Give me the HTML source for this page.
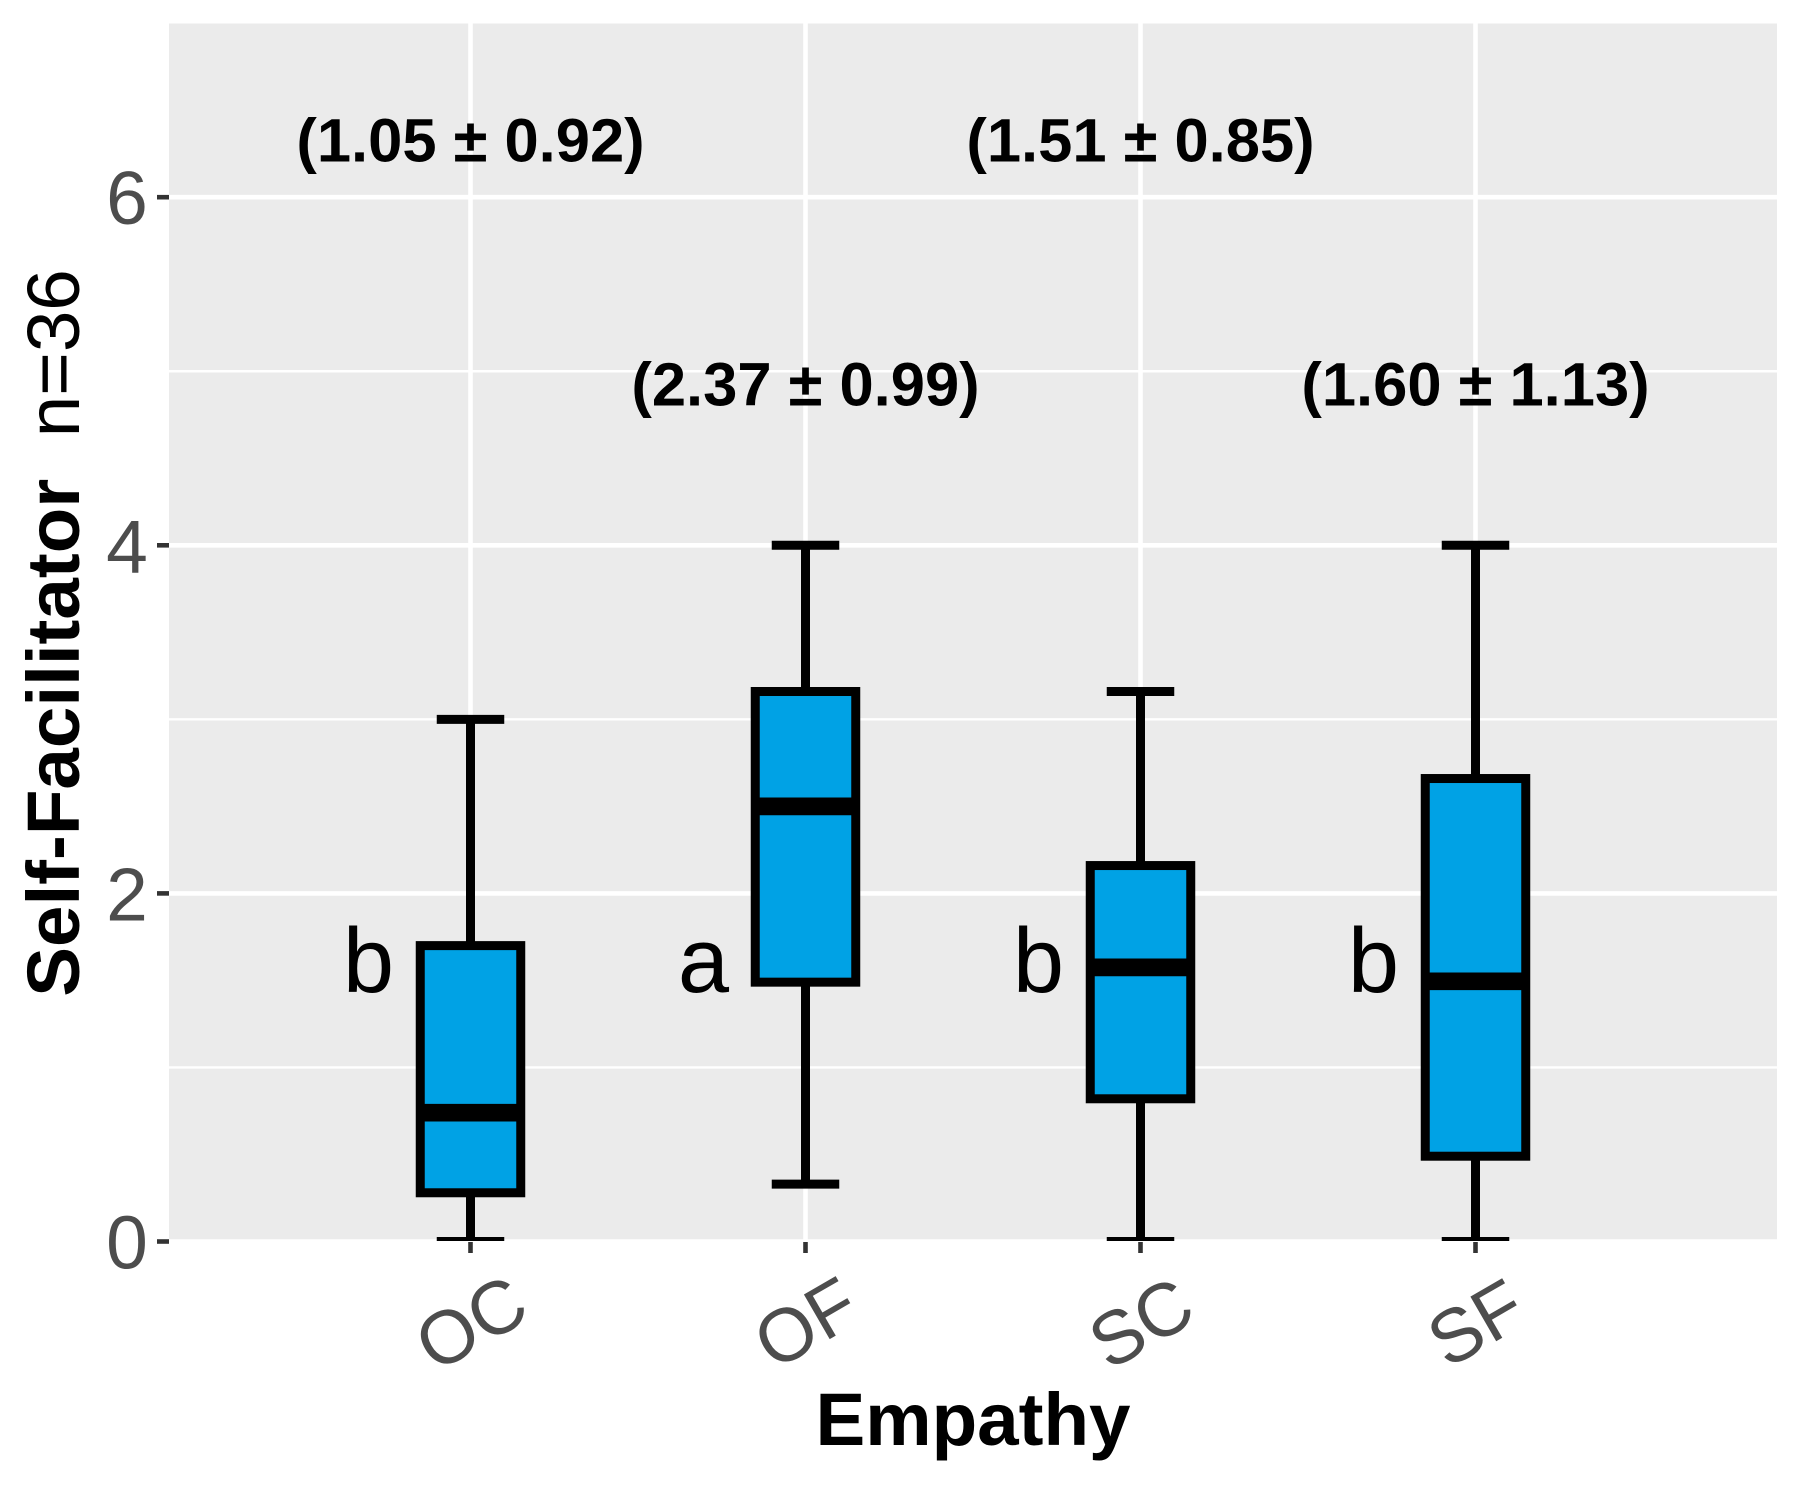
<!DOCTYPE html>
<html lang="en">
<head>
<meta charset="utf-8">
<title>Self-Facilitator by Empathy</title>
<style>
  html, body { margin: 0; padding: 0; background: #ffffff; }
  #chart { display: block; width: 1800px; height: 1500px; font-family: "Liberation Sans", Arial, sans-serif; }
</style>
</head>
<body>
<svg id="chart" xmlns="http://www.w3.org/2000/svg" width="1800" height="1500" viewBox="0 0 1800 1500">
  <defs>
    <clipPath id="panel-clip"><rect x="169" y="23.5" width="1608" height="1217.5"></rect></clipPath>
  </defs>
  <rect x="0" y="0" width="1800" height="1500" fill="#ffffff"></rect>
  <rect x="169" y="23.5" width="1608" height="1217.5" fill="#ebebeb"></rect>
  <g id="grid" clip-path="url(#panel-clip)"></g>
  <g id="boxes" clip-path="url(#panel-clip)"></g>
  <g id="annotations"></g>
  <g id="axes"></g>
  <text x="973" y="1445" text-anchor="middle" font-size="74.6" font-weight="700" fill="#000000">Empathy</text>
  <text transform="translate(79 633) rotate(-90)" text-anchor="middle" font-size="74.6" fill="#000000" xml:space="preserve" style="white-space:pre"><tspan font-weight="700">Self-Facilitator</tspan><tspan>  n=36</tspan></text>
</svg>
<script>
const categories = ["OC", "OF", "SC", "SF"];
const whiskerLow = [0, 0.33, 0, 0];
const q1 = [0.28, 1.49, 0.82, 0.49];
const median = [0.74, 2.50, 1.575, 1.495];
const q3 = [1.70, 3.16, 2.16, 2.66];
const whiskerHigh = [3, 4, 3.16, 4];
const meanLabels = ["(1.05 \u00b1 0.92)", "(2.37 \u00b1 0.99)", "(1.51 \u00b1 0.85)", "(1.60 \u00b1 1.13)"];
const groupLetters = ["b", "a", "b", "b"];
const yMajorTicks = [0, 2, 4, 6];
const yMinorTicks = [1, 3, 5];

const SVG_NS = "http://www.w3.org/2000/svg";
const PANEL = { left: 169, right: 1777, top: 23.5, bottom: 1241 };
const BOX_HALF = 50.25;
const CAP_HALF = 33.75;

function xScale(i) { return 470.5 + i * 335; }
function yScale(v) { return 1241.5 - v * 174.05; }

function makeLine(parent, x1, y1, x2, y2, stroke, width) {
  const el = document.createElementNS(SVG_NS, "line");
  el.setAttribute("x1", x1);
  el.setAttribute("y1", y1);
  el.setAttribute("x2", x2);
  el.setAttribute("y2", y2);
  el.setAttribute("stroke", stroke);
  el.setAttribute("stroke-width", width);
  parent.appendChild(el);
  return el;
}

function makeText(parent, x, y, content, size, fill, weight) {
  const el = document.createElementNS(SVG_NS, "text");
  el.setAttribute("x", x);
  el.setAttribute("y", y);
  el.setAttribute("font-size", size);
  el.setAttribute("fill", fill);
  el.setAttribute("font-weight", weight);
  el.setAttribute("text-anchor", "middle");
  el.textContent = content;
  parent.appendChild(el);
  return el;
}

const grid = document.getElementById("grid");
const boxes = document.getElementById("boxes");
const annotations = document.getElementById("annotations");
const axes = document.getElementById("axes");

yMinorTicks.forEach(function (v) {
  const el = makeLine(grid, PANEL.left, yScale(v), PANEL.right, yScale(v), "#ffffff", 2.4);
  
  
});
yMajorTicks.forEach(function (v) {
  const el = makeLine(grid, PANEL.left, yScale(v), PANEL.right, yScale(v), "#ffffff", 4.6);
  
  
});
categories.forEach(function (c, i) {
  const el = makeLine(grid, xScale(i), PANEL.top, xScale(i), PANEL.bottom, "#ffffff", 4.6);
  
  
});

categories.forEach(function (c, i) {
  const x = xScale(i);
  const g = document.createElementNS(SVG_NS, "g");
  
  
  boxes.appendChild(g);

  const upper = makeLine(g, x, yScale(q3[i]), x, yScale(whiskerHigh[i]), "#000000", 9);
  
  

  const lower = makeLine(g, x, yScale(q1[i]), x, yScale(whiskerLow[i]), "#000000", 9);
  
  

  const capHigh = makeLine(g, x - CAP_HALF, yScale(whiskerHigh[i]), x + CAP_HALF, yScale(whiskerHigh[i]), "#000000", 9);
  
  

  const capLow = makeLine(g, x - CAP_HALF, yScale(whiskerLow[i]), x + CAP_HALF, yScale(whiskerLow[i]), "#000000", 9);
  
  

  const rect = document.createElementNS(SVG_NS, "rect");
  rect.setAttribute("x", x - BOX_HALF);
  rect.setAttribute("y", yScale(q3[i]));
  rect.setAttribute("width", BOX_HALF * 2);
  rect.setAttribute("height", yScale(q1[i]) - yScale(q3[i]));
  rect.setAttribute("fill", "#00a2e5");
  rect.setAttribute("stroke", "#000000");
  rect.setAttribute("stroke-width", 9);
  
  
  g.appendChild(rect);

  const med = makeLine(g, x - BOX_HALF, yScale(median[i]), x + BOX_HALF, yScale(median[i]), "#000000", 17.7);
  
  
});

categories.forEach(function (c, i) {
  const labelY = i % 2 === 0 ? 161.5 : 405.5;
  const label = makeText(annotations, xScale(i), labelY, meanLabels[i], 61.5, "#000000", 700);
  
  

  const letter = makeText(annotations, xScale(i) - 102, 992, groupLetters[i], 92, "#000000", 400);
  
  
});

yMajorTicks.forEach(function (v) {
  const tick = makeLine(axes, 157, yScale(v), PANEL.left, yScale(v), "#333333", 4.6);
  
  

  const label = makeText(axes, 127, yScale(v) + 27, String(v), 75, "#4d4d4d", 400);
  
  
});

categories.forEach(function (c, i) {
  const x = xScale(i);
  const tick = makeLine(axes, x, 1242, x, 1253, "#333333", 4.6);
  
  

  const label = makeText(axes, 0, 0, c, 75, "#4d4d4d", 400);
  label.removeAttribute("x");
  label.removeAttribute("y");
  label.setAttribute("dy", "0.36em");
  label.setAttribute("transform", "translate(" + x + " 1322) rotate(-30)");
  
  
});
</script>
</body>
</html>
